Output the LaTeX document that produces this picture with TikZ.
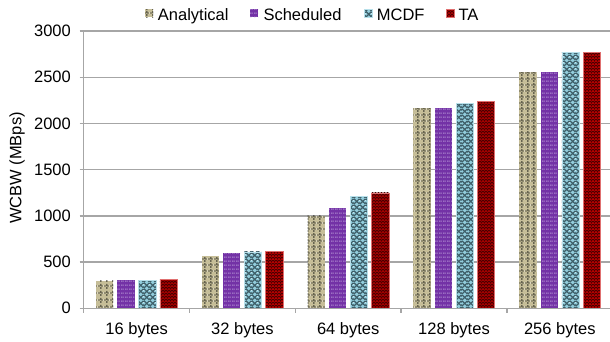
\documentclass[tikz,border=0pt]{standalone}
\usepackage{fontspec}
\setmainfont{Liberation Sans}
\usetikzlibrary{patterns.meta}

\definecolor{anaFill}{HTML}{C6BE98}
\definecolor{anaLine}{HTML}{35352A}
\definecolor{schFill}{HTML}{7332A6}
\definecolor{schDot}{HTML}{D6C2EE}
\definecolor{mcdFill}{HTML}{92CDDC}
\definecolor{mcdLine}{HTML}{3E5E68}
\definecolor{mcdEdge}{HTML}{B8E0EA}
\definecolor{taFill}{HTML}{C00000}
\definecolor{taLine}{HTML}{4A0000}
\definecolor{taEdge}{HTML}{E07070}
\definecolor{gridGray}{HTML}{A6A6A6}

% dashed square grid (Analytical)
\tikzdeclarepattern{
  name=anagrid, type=colored,
  bottom left={(0pt,0pt)}, top right={(5.77pt,6.4pt)}, tile size={(5.77pt,6.4pt)},
  code={
    \tikzset{x=1pt,y=1pt}
    \draw[anaLine, line width=0.9pt] (0.1,3.2) -- (2.0,3.2) (3.0,3.2) -- (4.9,3.2);
    \draw[anaLine, line width=0.9pt] (2.9,0.1) -- (2.9,2.1) (2.9,3.2) -- (2.9,5.4);
  }
}
% light dots (Scheduled)
\tikzdeclarepattern{
  name=schdots, type=colored,
  bottom left={(0pt,0pt)}, top right={(4.3pt,4.3pt)}, tile size={(4.3pt,4.3pt)},
  code={
    \tikzset{x=1pt,y=1pt}
    \fill[schDot] (1.6,1.6) rectangle (2.7,2.7);
  }
}
% diagonal crosshatch (MCDF)
\tikzdeclarepattern{
  name=mcdhatch, type=colored,
  bottom left={(0pt,0pt)}, top right={(6pt,6pt)}, tile size={(6pt,6pt)},
  code={
    \tikzset{x=1pt,y=1pt}
    \draw[mcdLine, line width=1.3pt] (-0.5,-0.5) -- (6.5,6.5) (-0.5,6.5) -- (6.5,-0.5);
  }
}
% fine diagonal lines (TA)
\tikzdeclarepattern{
  name=talines, type=colored,
  bottom left={(0pt,0pt)}, top right={(2.6pt,2.6pt)}, tile size={(2.6pt,2.6pt)},
  code={
    \tikzset{x=1pt,y=1pt}
    \draw[taLine, line width=0.9pt] (-0.5,-0.5) -- (3.1,3.1)
      (-0.5,2.1) -- (0.5,3.1) (2.1,-0.5) -- (3.1,0.5);
  }
}

\tikzset{
  anabar/.style={preaction={fill=anaFill}, pattern=anagrid},
  schbar/.style={preaction={fill=schFill}, pattern=schdots},
  mcdbar/.style={preaction={fill=mcdFill}, pattern=mcdhatch, draw=mcdEdge, line width=0.5pt},
  tabar/.style={preaction={fill=taFill}, pattern=talines, draw=taEdge, line width=0.5pt},
  gridline/.style={draw=gridGray, line width=1.3pt},
  axisline/.style={draw=gridGray, line width=1.3pt},
  lab/.style={font=\fontsize{16.5}{19}\selectfont, inner sep=0pt, text=black},
}

\begin{document}
\begin{tikzpicture}[x=1pt, y=-1pt]
\useasboundingbox (0,0) rectangle (610,341);
\begin{scope}
\clip (0,0) rectangle (610,341);

% horizontal grid lines and y tick labels
\foreach \v in {500,1000,...,3000} {
  \pgfmathsetmacro{\yy}{308.3-\v*0.09243}
  \draw[gridline] (83.7,\yy) -- (612,\yy);
}
\foreach \v in {0,500,1000,...,3000} {
  \pgfmathsetmacro{\yy}{308.3-\v*0.09243}
  \draw[axisline] (79.5,\yy) -- (83.7,\yy);
  \node[lab, anchor=east] (yt\v) at (71,\yy) {\v};
}

% bars
\foreach \g/\a/\b/\c/\d [count=\i from 0] in
  {16/300/310/300/310, 32/565/595/610/620, 64/1000/1085/1215/1250,
   128/2165/2165/2215/2235, 256/2555/2560/2770/2770} {
  \pgfmathsetmacro{\L}{83.7+105.8*\i}
  \path[anabar] (\L+12.3,308.3) rectangle (\L+29.6,308.3-\a*0.09243);
  \path[schbar] (\L+33.6,308.3) rectangle (\L+50.9,308.3-\b*0.09243);
  \path[mcdbar] (\L+54.9,308.3) rectangle (\L+72.2,308.3-\c*0.09243);
  \path[tabar]  (\L+76.2,308.3) rectangle (\L+93.5,308.3-\d*0.09243);
  \node[lab, anchor=base] (xl\g) at (\L+52.9,334) {\g{} bytes};
}

% axes
\draw[axisline] (83.7,31) -- (83.7,308.3) -- (612,308.3);
\foreach \i in {0,...,4} {
  \draw[axisline] (83.7+105.8*\i,308.3) -- (83.7+105.8*\i,313);
}

% axis title
\node[lab, rotate=90] (ytitle) at (17,168) {WCBW (MBps)};

% legend
\path[anabar] (145,9) rectangle (153.3,17.3);
\node[lab, anchor=base west] (leg1) at (157.7,20.5) {Analytical};
\path[schbar] (250,9) rectangle (258.3,17.3);
\node[lab, anchor=base west] (leg2) at (263.3,20.5) {Scheduled};
\path[mcdbar] (364.3,9) rectangle (372.6,17.3);
\node[lab, anchor=base west] (leg3) at (376.7,20.5) {MCDF};
\path[tabar] (446,9) rectangle (454.3,17.3);
\node[lab, anchor=base west] (leg4) at (458.3,20.5) {TA};
\end{scope}
\end{tikzpicture}
\end{document}
